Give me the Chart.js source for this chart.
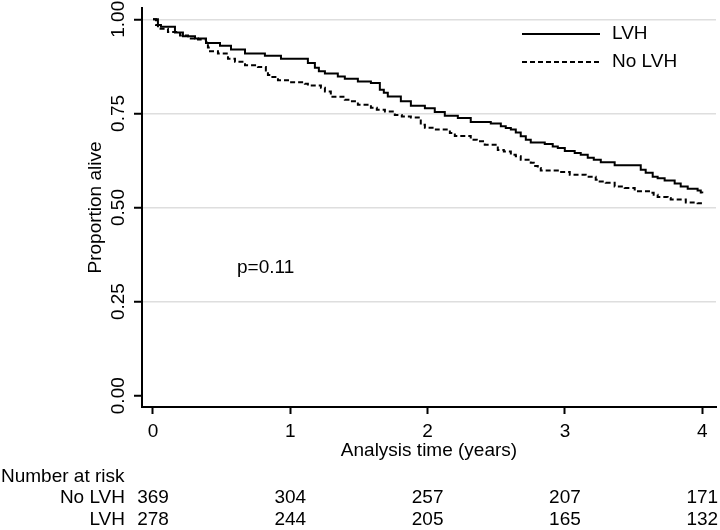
<!DOCTYPE html>
<html>
<head>
<meta charset="utf-8">
<title>Survival by LVH</title>
<script src="https://cdn.jsdelivr.net/npm/chart.js@4/dist/chart.umd.min.js"></script>
<style>
  html, body { margin: 0; padding: 0; background: #fff; }
  #wrap { width: 720px; height: 530px; position: relative; }
</style>
</head>
<body>
<div id="wrap"><canvas id="kmChart"></canvas></div>
<script>
// Kaplan-Meier steps (time in years, proportion alive)
const lvhTime = [0, 0.036, 0.058, 0.16, 0.218, 0.306, 0.386, 0.488, 0.568, 0.67, 0.815, 0.932,
  1.128, 1.179, 1.208, 1.252, 1.346, 1.397, 1.492, 1.587, 1.652, 1.681, 1.71, 1.805, 1.878, 1.98,
  2.052, 2.125, 2.22, 2.314, 2.46, 2.533, 2.569, 2.606, 2.642, 2.678, 2.715, 2.751, 2.853, 2.911, 2.948, 2.999,
  3.071, 3.115, 3.166, 3.21, 3.261, 3.362, 3.552, 3.588, 3.639, 3.675, 3.726, 3.799, 3.843, 3.894, 3.966, 3.989, 4.0];
const lvhSurv = [1.0, 0.985, 0.98, 0.965, 0.955, 0.949, 0.937, 0.93, 0.92, 0.909, 0.903, 0.895,
  0.884, 0.871, 0.862, 0.856, 0.848, 0.842, 0.835, 0.831, 0.813, 0.805, 0.795, 0.782, 0.77, 0.764,
  0.754, 0.744, 0.738, 0.727, 0.723, 0.716, 0.711, 0.707, 0.699, 0.689, 0.68, 0.673, 0.669, 0.662, 0.658, 0.65,
  0.645, 0.64, 0.632, 0.627, 0.62, 0.612, 0.6, 0.592, 0.582, 0.578, 0.572, 0.564, 0.556, 0.55, 0.545, 0.54, 0.538];

const noLvhTime = [0, 0.022, 0.036, 0.109, 0.197, 0.255, 0.328, 0.386, 0.4, 0.415, 0.473, 0.546, 0.597,
  0.67, 0.764, 0.822, 0.837, 0.859, 0.91, 0.983, 1.106, 1.128, 1.223, 1.252, 1.295, 1.397, 1.441, 1.492,
  1.587, 1.63, 1.689, 1.761, 1.812, 1.878, 1.95, 1.98, 2.06, 2.162, 2.198, 2.314, 2.358, 2.416, 2.511,
  2.555, 2.606, 2.642, 2.678, 2.751, 2.773, 2.802, 2.824, 2.948, 3.035, 3.151, 3.224, 3.253, 3.297,
  3.362, 3.435, 3.508, 3.624, 3.646, 3.675, 3.748, 3.77, 3.88, 3.966, 4.0];
const noLvhSurv = [1.0, 0.985, 0.975, 0.966, 0.957, 0.949, 0.946, 0.94, 0.925, 0.915, 0.909, 0.895, 0.887,
  0.878, 0.873, 0.864, 0.852, 0.847, 0.838, 0.833, 0.829, 0.824, 0.818, 0.808, 0.794, 0.786, 0.782, 0.773,
  0.765, 0.76, 0.755, 0.746, 0.742, 0.739, 0.72, 0.712, 0.707, 0.698, 0.69, 0.68, 0.676, 0.667, 0.653,
  0.649, 0.64, 0.636, 0.627, 0.619, 0.61, 0.605, 0.598, 0.594, 0.587, 0.582, 0.574, 0.569, 0.566,
  0.556, 0.552, 0.543, 0.539, 0.534, 0.528, 0.525, 0.521, 0.513, 0.511, 0.511];

const timeTicks = [0, 1, 2, 3, 4];
const survTicks = [0, 0.25, 0.5, 0.75, 1];
const survTickLabels = ['0.00', '0.25', '0.50', '0.75', '1.00'];

const riskTitle = 'Number at risk';
const riskGroups = ['No LVH', 'LVH'];
const riskNoLvh = [369, 304, 257, 207, 171];
const riskLvh = [278, 244, 205, 165, 132];

const pText = 'p=0.11';
const pAt = { x: 0.82, y: 0.34 };

const FONT = '19px "Liberation Sans", Arial, Helvetica, sans-serif';

function toPoints(xs, ys) {
    return xs.map((x, i) => ({ x: x, y: ys[i] }));
}

// draws the rotated y labels, titles, legend, p value and the risk table
const extrasPlugin = {
    id: 'kmExtras',
    afterDraw(chart) {
        const ctx = chart.ctx;
        const xs = chart.scales.x;
        const ys = chart.scales.y;
        const area = chart.chartArea;
        ctx.save();
        ctx.font = FONT;
        ctx.fillStyle = '#000';

        // y tick labels, vertical
        survTicks.forEach((v, i) => {
            ctx.save();
            ctx.translate(119, ys.getPixelForValue(v));
            ctx.rotate(-Math.PI / 2);
            ctx.textAlign = 'center';
            ctx.textBaseline = 'middle';
            ctx.fillText(survTickLabels[i], 0, 0);
            ctx.restore();
        });

        // y title
        ctx.save();
        ctx.translate(96, (area.top + area.bottom) / 2);
        ctx.rotate(-Math.PI / 2);
        ctx.textAlign = 'center';
        ctx.textBaseline = 'middle';
        ctx.fillText('Proportion alive', 0, 0);
        ctx.restore();

        // x tick labels and title
        ctx.textAlign = 'center';
        ctx.textBaseline = 'middle';
        timeTicks.forEach(t => {
            ctx.fillText(String(t), xs.getPixelForValue(t), 432);
        });
        ctx.fillText('Analysis time (years)', (area.left + area.right) / 2, 451);

        // p value
        ctx.fillText(pText, xs.getPixelForValue(pAt.x), ys.getPixelForValue(pAt.y));

        // number at risk
        ctx.textAlign = 'left';
        ctx.fillText(riskTitle, 1, 477);
        const rows = [riskNoLvh, riskLvh];
        riskGroups.forEach((g, r) => {
            const y = 498 + r * 22;
            ctx.textAlign = 'right';
            ctx.fillText(g, 125, y);
            ctx.textAlign = 'center';
            rows[r].forEach((n, i) => {
                ctx.fillText(String(n), xs.getPixelForValue(timeTicks[i]), y);
            });
        });

        // legend
        const items = [chart.data.datasets[0], chart.data.datasets[1]];
        items.forEach((ds, i) => {
            const y = 34 + i * 28;
            ctx.beginPath();
            ctx.strokeStyle = ds.borderColor;
            ctx.lineWidth = ds.borderWidth;
            ctx.setLineDash(ds.borderDash || []);
            ctx.moveTo(522, y);
            ctx.lineTo(600, y);
            ctx.stroke();
            ctx.setLineDash([]);
            ctx.textAlign = 'left';
            ctx.fillText(ds.label, 612, y);
        });

        ctx.restore();
    }
};

document.addEventListener('DOMContentLoaded', function () {
    const kmCtx = document.getElementById('kmChart').getContext('2d');

    new Chart(kmCtx, {
        type: 'scatter',
        data: {
            datasets: [{
                label: 'LVH',
                data: toPoints(lvhTime, lvhSurv),
                showLine: true,
                stepped: 'before',
                borderColor: '#000',
                borderWidth: 2,
                pointRadius: 0,
                fill: false
            }, {
                label: 'No LVH',
                data: toPoints(noLvhTime, noLvhSurv),
                showLine: true,
                stepped: 'before',
                borderColor: '#000',
                borderWidth: 2,
                borderDash: [5, 3],
                pointRadius: 0,
                fill: false
            }]
        },
        options: {
            responsive: true,
            maintainAspectRatio: false,
            animation: false,
            layout: { padding: { top: 8, right: 4, left: 0, bottom: 0 } },
            plugins: {
                legend: { display: false },
                tooltip: { enabled: false }
            },
            scales: {
                x: {
                    type: 'linear',
                    min: -0.08,
                    max: 4.1,
                    afterBuildTicks: scale => { scale.ticks = timeTicks.map(v => ({ value: v })); },
                    afterFit: scale => { scale.height = 123; },
                    ticks: { display: false },
                    grid: {
                        drawOnChartArea: false,
                        drawTicks: true,
                        tickLength: 7,
                        tickColor: '#000',
                        tickWidth: 2
                    },
                    border: { display: true, color: '#000', width: 2 }
                },
                y: {
                    type: 'linear',
                    min: -0.03,
                    max: 1.03,
                    afterBuildTicks: scale => { scale.ticks = survTicks.map(v => ({ value: v })); },
                    afterFit: scale => { scale.width = 142; },
                    ticks: { display: false },
                    grid: {
                        color: ctx => (ctx.tick && ctx.tick.value === 0) ? 'rgba(0,0,0,0)' : '#dedede',
                        lineWidth: 1.5,
                        drawTicks: true,
                        tickLength: 8,
                        tickColor: '#000',
                        tickWidth: 2
                    },
                    border: { display: true, color: '#000', width: 2 }
                }
            }
        },
        plugins: [extrasPlugin]
    });
});
</script>
</body>
</html>
